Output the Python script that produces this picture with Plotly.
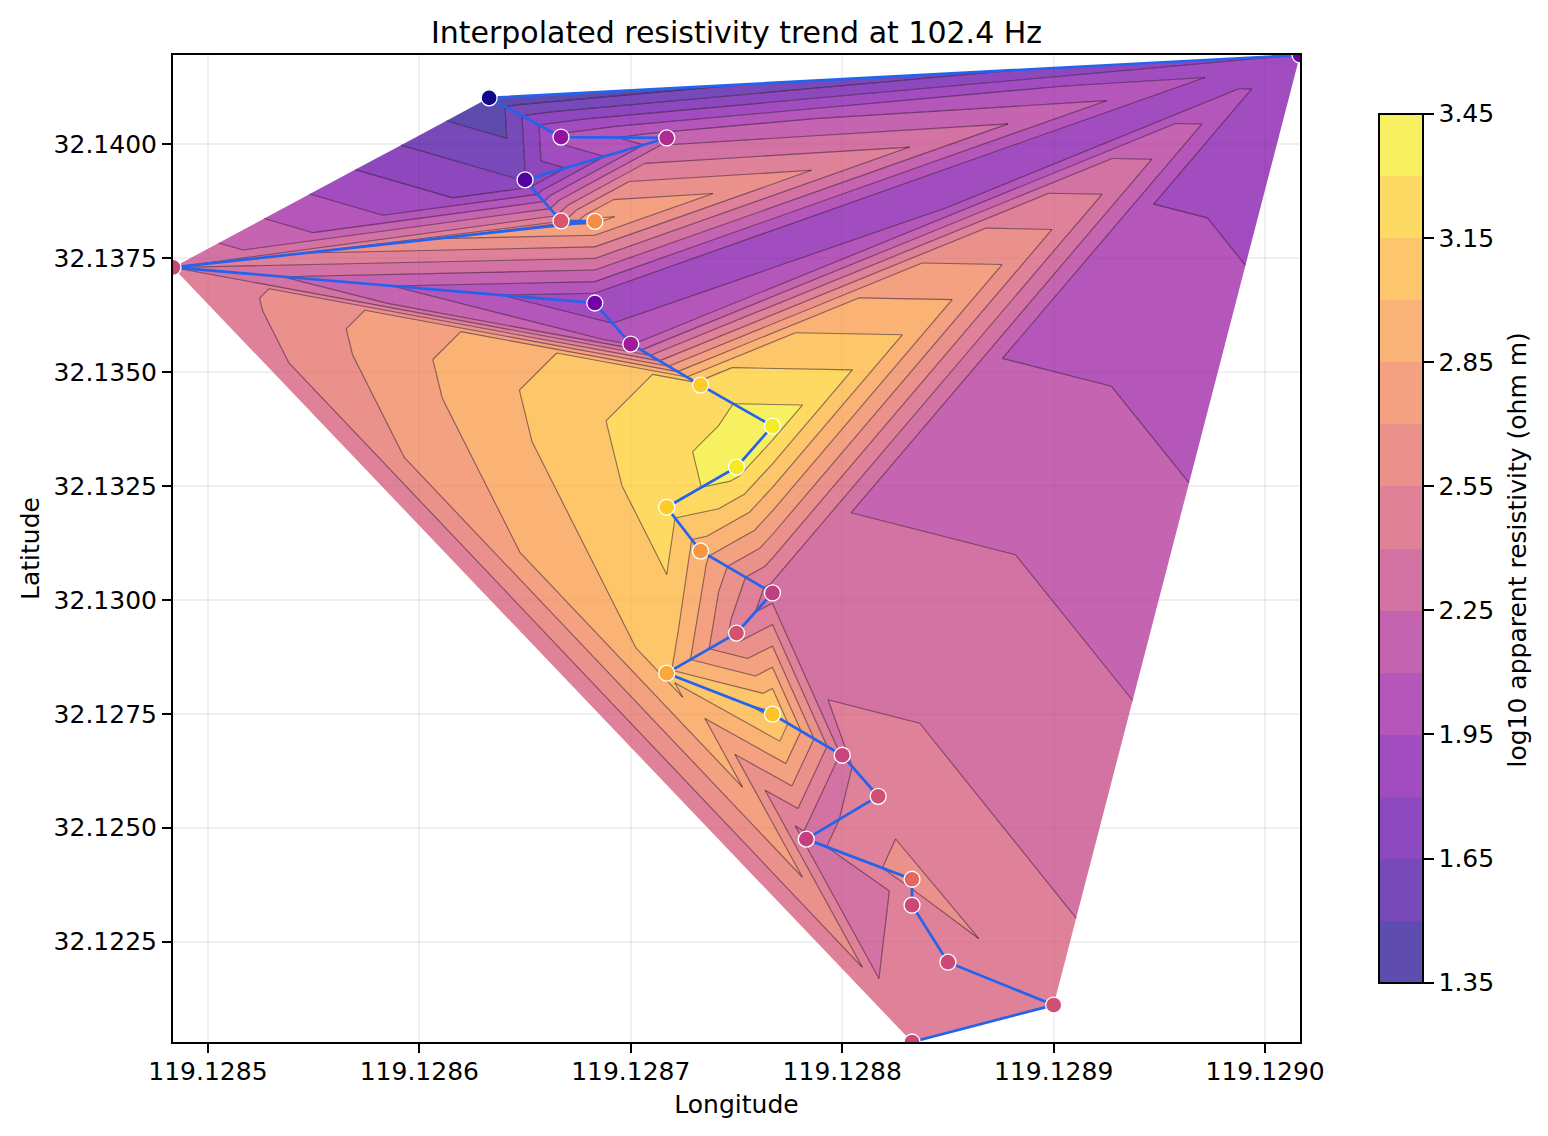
import itertools
import numpy as np
import plotly.graph_objects as go
from plotly.colors import sample_colorscale

# stations, ordered by latitude
lon = [119.1290165, 119.128633, 119.128667, 119.128717, 119.128650, 119.128667, 119.128683,
       119.1284835, 119.128683, 119.128700, 119.128733, 119.128767, 119.128750, 119.128717,
       119.128733, 119.128767, 119.128750, 119.128717, 119.128767, 119.128800, 119.128817,
       119.128783, 119.128833, 119.128833, 119.128850, 119.128900, 119.128833]
lat = [32.14195, 32.14101, 32.14015, 32.14013, 32.13921, 32.13831, 32.13830,
       32.13729, 32.13651, 32.13561, 32.13471, 32.13381, 32.13291, 32.13203,
       32.13107, 32.13015, 32.12927, 32.12839, 32.12749, 32.12659, 32.12569,
       32.12475, 32.12387, 32.12330, 32.12205, 32.12111, 32.12030]
log_rho = [1.805, 1.36, 1.995, 2.19, 1.645, 2.51, 2.88,
           2.40, 1.823, 2.08, 3.225, 3.39, 3.376, 3.225,
           2.92, 2.328, 2.48, 3.04, 3.18, 2.375, 2.465,
           2.345, 2.63, 2.415, 2.416, 2.46, 2.425]

levels = [1.35 + 0.15 * i for i in range(15)]
cbar_ticks = [1.35, 1.65, 1.95, 2.25, 2.55, 2.85, 3.15, 3.45]
lon_ticks = [119.1285, 119.1286, 119.1287, 119.1288, 119.1289, 119.1290]
lat_ticks = [32.1225, 32.1250, 32.1275, 32.1300, 32.1325, 32.1350, 32.1375, 32.1400]

FONT = "DejaVu Sans"
FILL_ALPHA = 0.72


def delaunay(x, y):
    # brute force is fine for a couple of dozen stations
    tris = []
    n = len(x)
    for a, b, c in itertools.combinations(range(n), 3):
        ax, ay, bx, by, cx, cy = x[a], y[a], x[b], y[b], x[c], y[c]
        d = 2 * (ax * (by - cy) + bx * (cy - ay) + cx * (ay - by))
        if abs(d) < 1e-12:
            continue
        ux = ((ax**2 + ay**2) * (by - cy) + (bx**2 + by**2) * (cy - ay) + (cx**2 + cy**2) * (ay - by)) / d
        uy = ((ax**2 + ay**2) * (cx - bx) + (bx**2 + by**2) * (ax - cx) + (cx**2 + cy**2) * (bx - ax)) / d
        r2 = (ax - ux) ** 2 + (ay - uy) ** 2
        inside = (x - ux) ** 2 + (y - uy) ** 2 < r2 * (1 - 1e-9)
        inside[[a, b, c]] = False
        if not inside.any():
            tris.append((a, b, c))
    return tris


def clip(poly, level, above):
    out = []
    for i in range(len(poly)):
        p, q = poly[i], poly[(i + 1) % len(poly)]
        p_in = p[2] >= level if above else p[2] <= level
        q_in = q[2] >= level if above else q[2] <= level
        if p_in:
            out.append(p)
        if p_in != q_in:
            t = (level - p[2]) / (q[2] - p[2])
            out.append((p[0] + t * (q[0] - p[0]), p[1] + t * (q[1] - p[1]), level))
    return out


x_arr = np.array(lon)
y_arr = np.array(lat)
triangles = delaunay((x_arr - x_arr.mean()) * 1e3, (y_arr - y_arr.mean()) * 1e3)
corners = [[(lon[i], lat[i], log_rho[i]) for i in tri] for tri in triangles]

# each band takes the colour at its midpoint
n_bands = len(levels) - 1
plasma = sample_colorscale("Plasma", [(i + 0.5) / n_bands for i in range(n_bands)], colortype="tuple")
plasma = [tuple(255 * v if max(c) <= 1 else v for v in c) for c in plasma]

fig = go.Figure()

for b in range(n_bands):
    xs, ys = [], []
    for tri in corners:
        poly = clip(clip(tri, levels[b], True), levels[b + 1], False)
        if len(poly) < 3:
            continue
        xs += [p[0] for p in poly] + [poly[0][0], None]
        ys += [p[1] for p in poly] + [poly[0][1], None]
    r, g, bl = plasma[b]
    fig.add_trace(go.Scatter(x=xs, y=ys, mode="lines", fill="toself",
                             fillcolor=f"rgba({r:.0f},{g:.0f},{bl:.0f},{FILL_ALPHA})",
                             line=dict(width=0, simplify=False),
                             hoverinfo="skip", showlegend=False))

# thin contour lines on the inner levels
line_x, line_y = [], []
for level in levels[1:-1]:
    for tri in corners:
        pts = []
        for i in range(3):
            p, q = tri[i], tri[(i + 1) % 3]
            if (p[2] - level) * (q[2] - level) < 0:
                t = (level - p[2]) / (q[2] - p[2])
                pts.append((p[0] + t * (q[0] - p[0]), p[1] + t * (q[1] - p[1])))
        if len(pts) == 2:
            line_x += [pts[0][0], pts[1][0], None]
            line_y += [pts[0][1], pts[1][1], None]
fig.add_trace(go.Scatter(x=line_x, y=line_y, mode="lines",
                         line=dict(color="rgba(30,0,30,0.5)", width=1.1, simplify=False),
                         hoverinfo="skip", showlegend=False))

fig.add_trace(go.Scatter(x=lon, y=lat, mode="lines+markers",
                         line=dict(color="#2563eb", width=2.7),
                         marker=dict(size=16, color=log_rho, colorscale="Plasma",
                                     cmin=levels[0], cmax=levels[-1],
                                     line=dict(color="white", width=1.3)),
                         showlegend=False))

# colorbar only trace, colours flattened on white so the steps stay clean
flat = [tuple(FILL_ALPHA * v + (1 - FILL_ALPHA) * 255 for v in c) for c in plasma]
cscale = []
for i, c in enumerate(flat):
    col = f"rgb({c[0]:.0f},{c[1]:.0f},{c[2]:.0f})"
    cscale += [[i / n_bands, col], [(i + 1) / n_bands, col]]
fig.add_trace(go.Scatter(x=[None], y=[None], mode="markers", showlegend=False, hoverinfo="skip",
                         marker=dict(color=[levels[0]], colorscale=cscale, cmin=levels[0], cmax=levels[-1],
                                     showscale=True,
                                     colorbar=dict(thicknessmode="pixels", thickness=44,
                                                   lenmode="pixels", len=869,
                                                   x=1.0701, xanchor="left", xpad=0,
                                                   y=0.9405, yanchor="top", ypad=0,
                                                   outlinecolor="black", outlinewidth=2,
                                                   tickvals=cbar_ticks,
                                                   ticktext=[f"{v:.2f}" for v in cbar_ticks],
                                                   ticks="outside", ticklen=10, tickwidth=2, tickcolor="black",
                                                   tickfont=dict(family=FONT, size=25, color="black")))))

axis = dict(showline=True, mirror=True, linecolor="black", linewidth=2,
            ticks="outside", ticklen=9, tickwidth=2, tickcolor="black",
            showgrid=True, gridcolor="rgba(0,0,0,0.06)", gridwidth=2, zeroline=False,
            tickfont=dict(family=FONT, size=25, color="black"))

# the page adds an 8px body margin, so the figure is 8px short of the window
fig.update_layout(
    width=1540, height=1128, autosize=False,
    paper_bgcolor="white", plot_bgcolor="white",
    margin=dict(l=165, r=248, t=47, b=94),
    title=dict(text="Interpolated resistivity trend at 102.4 Hz", x=0.5, xref="paper", xanchor="center",
               y=0.9787, yanchor="middle", font=dict(family=FONT, size=30, color="black")),
    xaxis=dict(axis, range=[min(lon), max(lon)], tickvals=lon_ticks,
               ticktext=[f"{v:.4f}" for v in lon_ticks], ticklabelstandoff=-3,
               title=dict(text="Longitude", standoff=10, font=dict(family=FONT, size=25, color="black"))),
    yaxis=dict(axis, range=[min(lat), max(lat)], tickvals=lat_ticks,
               ticktext=[f"{v:.4f}" for v in lat_ticks],
               title=dict(text="Latitude", standoff=7, font=dict(family=FONT, size=25, color="black"))),
    annotations=[dict(text="log10 apparent resistivity (ohm m)", textangle=-90, showarrow=False,
                      xref="paper", yref="paper", x=1.1926, y=0.498, xanchor="center", yanchor="middle",
                      font=dict(family=FONT, size=25, color="black"))],
)

fig.write_html("out.html")
